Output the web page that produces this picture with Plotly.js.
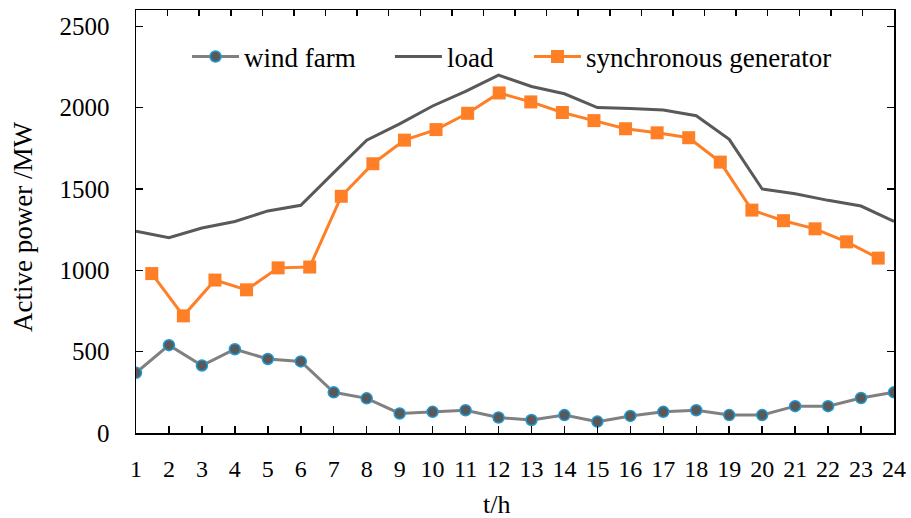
<!DOCTYPE html>
<html>
<head>
<meta charset="utf-8">
<script src="https://cdn.plot.ly/plotly-3.0.1.min.js"></script>
<style>html,body{margin:0;padding:0;background:#fff;}#chart{width:911px;height:518px;}</style>
</head>
<body>
<div id="chart"></div>
<script>
const hours = [1,2,3,4,5,6,7,8,9,10,11,12,13,14,15,16,17,18,19,20,21,22,23,24];
const genHours = [0.5,1.5,2.5,3.5,4.5,5.5,6.5,7.5,8.5,9.5,10.5,11.5,12.5,13.5,14.5,15.5,16.5,17.5,18.5,19.5,20.5,21.5,22.5,23.5];
const windFarm = [370,540,415,515,455,440,250,213,120,130,140,95,80,110,70,105,130,140,110,110,165,165,215,250];
const load = [1240,1200,1260,1300,1365,1400,1600,1800,1900,2010,2100,2200,2130,2085,2000,1995,1985,1950,1805,1500,1470,1430,1395,1300];
const syncGen = [980,720,940,880,1015,1020,1455,1655,1800,1865,1965,2090,2035,1970,1920,1870,1845,1815,1665,1370,1305,1255,1175,1075];
const yTicks = [0,500,1000,1500,2000,2500];

const FONT = "'Liberation Serif', 'Times New Roman', serif";

const traces = [
  {x: hours, y: windFarm, name: 'wind farm', type: 'scatter', mode: 'lines+markers',
   legend: 'legend',
   line: {color: '#808080', width: 3},
   marker: {symbol: 'circle', size: 11, color: '#595959', line: {color: '#1e9ad6', width: 1.5}}},
  {x: hours, y: load, name: 'load', type: 'scatter', mode: 'lines',
   legend: 'legend2',
   line: {color: '#595959', width: 3}},
  {x: genHours, y: syncGen, name: 'synchronous generator', type: 'scatter', mode: 'lines+markers',
   xaxis: 'x2', legend: 'legend3',
   line: {color: '#ff7f27', width: 3},
   marker: {symbol: 'square', size: 13, color: '#ff7f27'}}
];

function leg(x) {
  return {orientation: 'h', x: x, y: 0.889, xanchor: 'left', yanchor: 'middle',
          itemwidth: 47, bgcolor: 'rgba(0,0,0,0)', borderwidth: 0,
          font: {family: FONT, size: 27, color: '#000'}};
}

const layout = {
  width: 911, height: 518,
  margin: {l: 136, r: 17, t: 10, b: 85},
  paper_bgcolor: '#fff', plot_bgcolor: '#fff',
  font: {family: FONT, size: 24, color: '#000'},
  showlegend: true,
  legend: leg(0.0673),
  legend2: leg(0.335),
  legend3: leg(0.5185),
  xaxis: {range: [1, 24], tickvals: hours, ticktext: hours.map(String),
          ticks: 'inside', ticklen: 7, tickwidth: 1.5, tickcolor: '#000',
          showline: true, linecolor: '#000', linewidth: 1.5, mirror: true,
          showgrid: false, zeroline: false, ticklabelstandoff: 14,
          tickfont: {family: FONT, size: 24, color: '#000'}},
  xaxis2: {overlaying: 'x', side: 'top', range: [0, 24], dtick: 1, tick0: 0,
           ticks: 'inside', ticklen: 6, tickwidth: 1.5, tickcolor: '#000',
           showticklabels: false, showline: false, showgrid: false, zeroline: false},
  yaxis: {range: [0, 2600], tickvals: yTicks, ticktext: yTicks.map(String),
          ticks: 'inside', ticklen: 7, tickwidth: 1.5, tickcolor: '#000',
          showline: true, linecolor: '#000', linewidth: 1.5, mirror: 'ticks',
          showgrid: false, zeroline: false, ticklabelstandoff: 20,
          tickfont: {family: FONT, size: 25, color: '#000'}},
  annotations: [
    {text: 't/h', xref: 'paper', yref: 'paper', x: 0.476, y: -0.17,
     xanchor: 'center', yanchor: 'middle', showarrow: false,
     font: {family: FONT, size: 26, color: '#000'}},
    {text: 'Active power /MW', xref: 'paper', yref: 'paper', x: -0.149, y: 0.487,
     xanchor: 'center', yanchor: 'middle', textangle: -90, showarrow: false,
     font: {family: FONT, size: 27, color: '#000'}}
  ]
};

Plotly.newPlot('chart', traces, layout, {displayModeBar: false, staticPlot: true});
</script>
</body>
</html>
